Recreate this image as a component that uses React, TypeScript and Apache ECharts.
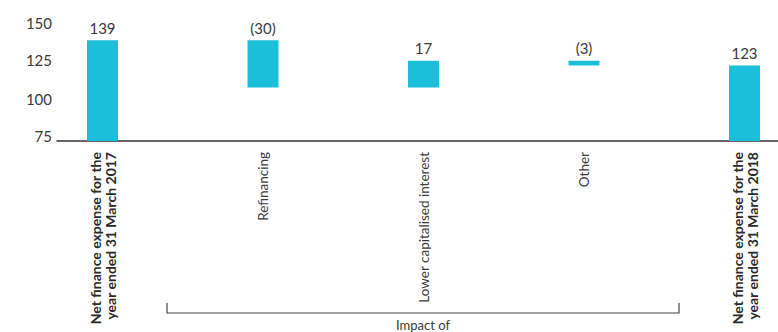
import React, { useEffect, useRef } from "react";
import * as echarts from "echarts";

const categories = [
  "Net finance expense for the\nyear ended 31 March 2017",
  "Refinancing",
  "Lower capitalised interest",
  "Other",
  "Net finance expense for the\nyear ended 31 March 2018",
];
const isTotal = [true, false, false, false, true];
const baseValues = [0, 109, 109, 123, 0];
const barValues = [139, 30, 17, 3, 123];
const valueLabels = ["139", "(30)", "17", "(3)", "123"];
const yMin = 75;
const yMax = 150;
const yInterval = 25;
const groupLabel = "Impact of";

const FONT = "Lato, 'Open Sans', sans-serif";
const TEXT = "#3a3a3a";
const BAR = "#1bbfd9";

export default function App() {
  const ref = useRef<HTMLDivElement>(null);
  useEffect(() => {
    if (!ref.current) return;
    const chart = echarts.init(ref.current, undefined, { renderer: "svg" });
    const idx = categories.map((_, i) => i);
    const yLabelStyle = (pad: number) => ({
      fontFamily: FONT,
      fontSize: 15,
      color: TEXT,
      padding: [0, 0, pad, 0],
    });
    chart.setOption({
      animation: false,
      textStyle: { fontFamily: FONT },
      grid: { left: 57, right: 0, top: 23, bottom: 191, containLabel: false },
      xAxis: {
        type: "value",
        min: -0.2835,
        max: 4.2087,
        splitLine: { show: false },
        axisTick: { show: false },
        axisLine: { show: true, lineStyle: { color: "#333", width: 1.5 } },
        axisLabel: {
          customValues: idx,
          rotate: 90,
          margin: 11,
          fontFamily: FONT,
          fontSize: 13.5,
          lineHeight: 15,
          color: TEXT,
          formatter: (v: number) => {
            const i = Math.round(v);
            const txt = categories[i] ?? "";
            if (isTotal[i]) {
              return txt
                .split("\n")
                .map((l) => `{b|${l}}`)
                .join("\n");
            }
            return txt;
          },
          rich: {
            b: {
              fontWeight: "bold",
              fontFamily: FONT,
              fontSize: 14,
              lineHeight: 15,
              color: "#2a2a2a",
            },
          },
        },
      },
      yAxis: {
        type: "value",
        min: yMin,
        max: yMax,
        interval: yInterval,
        splitLine: { show: false },
        axisTick: { show: false },
        axisLine: { show: false },
        axisLabel: {
          margin: 5,
          fontFamily: FONT,
          fontSize: 15,
          color: TEXT,
          formatter: (v: number) => {
            const k = Math.round((v - yMin) / yInterval);
            return `{p${k}|${v}}`;
          },
          rich: {
            p0: yLabelStyle(10),
            p1: yLabelStyle(6),
            p2: yLabelStyle(4),
            p3: yLabelStyle(1),
          },
        },
      },
      series: [
        {
          type: "custom",
          clip: true,
          encode: { x: 0, y: [1, 2] },
          data: idx.map((i) => [i, baseValues[i], baseValues[i] + barValues[i]]),
          renderItem: (params: any, api: any) => {
            const i = api.value(0);
            const lo = Math.max(api.value(1), yMin);
            const hi = api.value(2);
            const pTop = api.coord([i, hi]);
            const pBot = api.coord([i, lo]);
            const w = 31;
            return {
              type: "group",
              children: [
                {
                  type: "rect",
                  shape: {
                    x: pTop[0] - w / 2,
                    y: pTop[1],
                    width: w,
                    height: pBot[1] - pTop[1],
                  },
                  style: { fill: BAR },
                },
                {
                  type: "text",
                  x: pTop[0],
                  y: pTop[1] - 5,
                  style: {
                    text: valueLabels[params.dataIndex],
                    fontFamily: FONT,
                    fontSize: 15,
                    fill: TEXT,
                    align: "center",
                    verticalAlign: "bottom",
                  },
                },
              ],
            };
          },
        },
      ],
      graphic: [
        {
          type: "polyline",
          shape: {
            points: [
              [167, 303],
              [167, 313],
              [679, 313],
              [679, 303],
            ],
          },
          style: { stroke: "#444", lineWidth: 1.2, fill: "none" },
        },
        {
          type: "text",
          x: 423,
          y: 325,
          style: {
            text: groupLabel,
            fontFamily: FONT,
            fontSize: 13,
            fill: TEXT,
            align: "center",
            verticalAlign: "middle",
          },
        },
      ],
    });
    return () => chart.dispose();
  }, []);
  return <div ref={ref} style={{ width: 778, height: 332, position: "absolute", left: 0, top: 0 }} />;
}
